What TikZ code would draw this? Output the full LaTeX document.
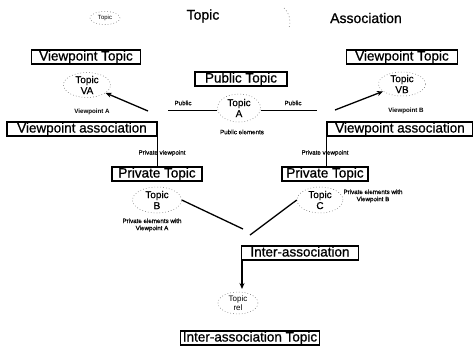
\documentclass[tikz,border=0pt]{standalone}
\usepackage{fontspec}
\setmainfont{Liberation Sans}
\usetikzlibrary{shapes.geometric,arrows.meta}
\begin{document}
\begin{tikzpicture}[x=1pt,y=-1pt,
 box/.style={draw, line width=1.3pt, fill=white, inner xsep=1.5pt, inner ysep=1pt, font=\fontsize{13.5}{13.5}\selectfont\addfontfeatures{FakeBold=0.8}, text height=9.5pt, text depth=2.5pt},
 ell/.style={ellipse, draw=black!60, dash pattern=on 0.7pt off 2.2pt, line width=0.5pt, inner sep=0pt},
 tlab/.style={font=\fontsize{10}{11}\selectfont\addfontfeatures{FakeBold=0.6}, align=center},
 small/.style={font=\fontsize{6.2}{7.2}\selectfont\addfontfeatures{FakeBold=0.6}, align=center},
 smallb/.style={font=\fontsize{6.2}{7.2}\selectfont\bfseries, align=center},
 thk/.style={line width=1.3pt},
 thn/.style={line width=0.8pt},
 arr/.style={thk, -{Stealth[length=6pt,width=5pt]}}
]
\useasboundingbox (0,0) rectangle (475,354);

% legend
\node[ell, minimum width=30pt, minimum height=13pt, label={[font=\fontsize{6}{6}\selectfont]center:Topic}] (legT) at (105,18) {};
\node[font=\fontsize{14}{14}\selectfont\addfontfeatures{FakeBold=0.8}] (legTtxt) at (203,16) {Topic};
\draw[dash pattern=on 0.8pt off 2.5pt, line width=0.6pt, draw=black!60] (284,8) to[bend left=30] (289,28);
\node[font=\fontsize{14}{14}\selectfont\addfontfeatures{FakeBold=0.8}] (legAtxt) at (366,18) {Association};

% boxes
\node[box, minimum width=109pt] (vtL) at (86,57) {Viewpoint Topic};
\node[box, minimum width=111pt] (vtR) at (402,57) {Viewpoint Topic};
\node[box, minimum width=92pt] (pubT) at (241,79) {Public Topic};
\node[box, minimum width=150pt] (vaL) at (82,129) {Viewpoint association};
\node[box, minimum width=145pt] (vaR) at (400,129) {Viewpoint association};
\node[box, minimum width=90pt] (privL) at (157,174) {Private Topic};
\node[box, minimum width=86pt] (privR) at (325,174) {Private Topic};
\node[box, minimum width=117pt] (interA) at (300,253) {Inter-association};
\node[box, minimum width=139pt] (interT) at (250,338) {Inter-association Topic};

% topics
\node[ell, minimum width=47pt, minimum height=25pt, label={[tlab]center:Topic\\VA}] (TVA) at (87,85) {};
\node[ell, minimum width=47pt, minimum height=24pt, label={[tlab]center:Topic\\VB}] (TVB) at (402,84) {};
\node[ell, minimum width=43pt, minimum height=28pt, label={[tlab]center:Topic\\A}] (TA) at (239,108) {};
\node[ell, minimum width=49pt, minimum height=26pt, label={[tlab]center:Topic\\B}] (TB) at (157,200) {};
\node[ell, minimum width=46pt, minimum height=26pt, label={[tlab]center:Topic\\C}] (TC) at (320,200) {};
\node[ell, minimum width=40pt, minimum height=22pt, label={[font=\fontsize{8}{9.5}\selectfont, align=center]center:Topic\\rel}] (Trel) at (238,303) {};

% small labels
\node[smallb] (lVA) at (92,112) {Viewpoint A};
\node[smallb] (lVB) at (406,111) {Viewpoint B};
\node[small] (lPubL) at (183,103) {Public};
\node[small] (lPubR) at (293,103) {Public};
\node[small] (lPubE) at (242,132) {Public elements};
\node[small] (lPvL) at (162,153) {Private viewpoint};
\node[small] (lPvR) at (325,153) {Private viewpoint};
\node[small] (lPeA) at (152,225) {Private elements with\\Viewpoint A};
\node[small] (lPeB) at (373,196) {Private elements with\\Viewpoint B};

% connectors
\coordinate (aL) at (148,111);
\coordinate (aR) at (335,110);
\draw[arr] (aL) -- (TVA);
\draw[arr] (aR) -- (TVB);
\coordinate (pubL) at (168,110);
\coordinate (pubR) at (317,110);
\draw[thn] (pubL) -- (pubL -| TA.west);
\draw[thn] (pubR -| TA.east) -- (pubR);
\draw[thn] (vaL.south east) -- (vaL.south east |- privL.north);
\draw[thn] (vaR.north west) -- (vaR.north west |- privR.north);
\coordinate (jB) at (243,229);
\coordinate (jC) at (250,235);
\draw[thk] (TB.east) -- (jB);
\draw[thk] (TC.west) -- (jC);
\coordinate (rTip) at (242,289);
\draw[arr] (interA.south west -| rTip) -- (rTip);
\end{tikzpicture}
\end{document}
